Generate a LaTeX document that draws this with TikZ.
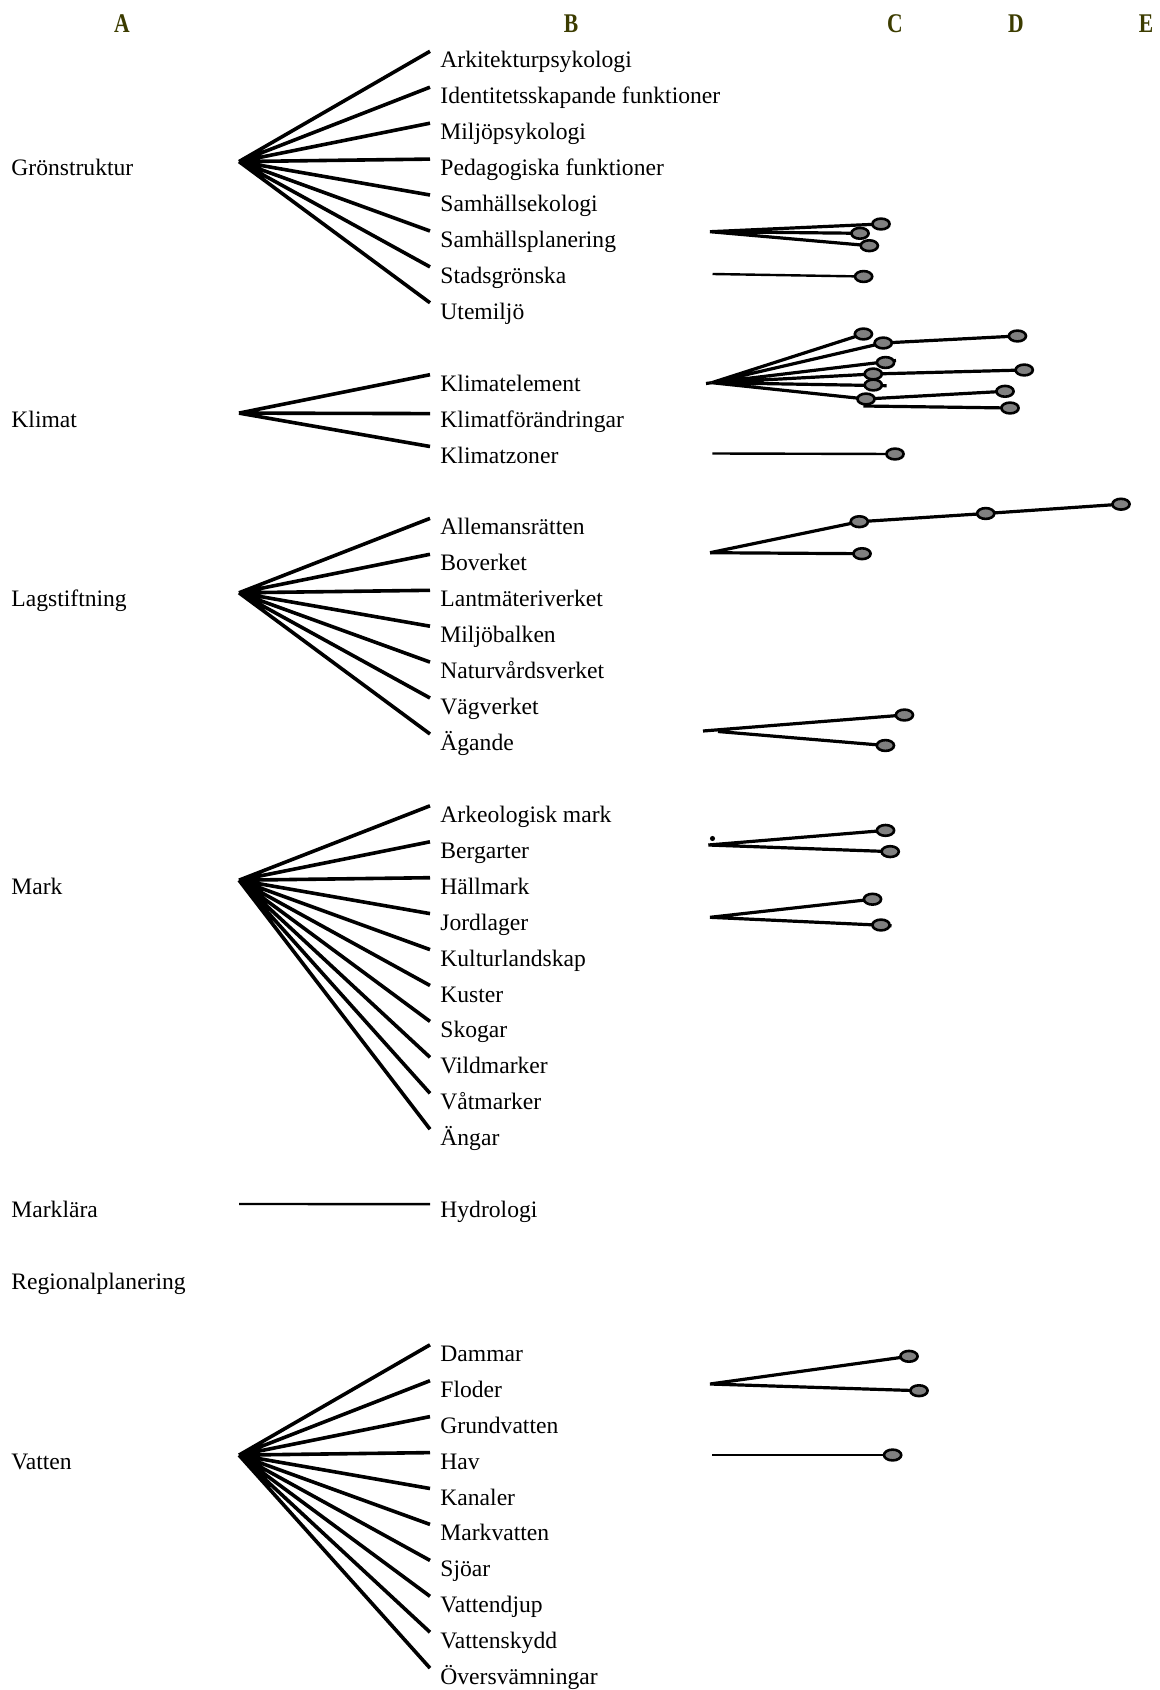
\documentclass[tikz,border=0pt]{standalone}
\usepackage{fontspec}
\setmainfont{Liberation Serif}
\usetikzlibrary{shapes.geometric}

\definecolor{headolive}{RGB}{60,60,0}
\definecolor{knobgray}{RGB}{128,128,128}

\tikzset{
  termnode/.style={anchor=west, inner sep=5pt, yshift=-1pt, font=\fontsize{11.8}{14}\selectfont,
    text height=0.8em, text depth=0.15em},
  headletter/.style={font=\fontsize{13.5}{15}\selectfont\bfseries, text=headolive},
  fanline/.style={line width=1.8pt},
  linkline/.style={line width=1.6pt},
  thinlink/.style={line width=1.2pt},
  knob/.style={ellipse, draw, fill=knobgray, line width=1.3pt, inner sep=0pt,
    minimum width=8.6pt, minimum height=5.4pt},
}

\begin{document}
\begin{tikzpicture}[x=0.5pt, y=-0.5pt]
  \useasboundingbox (0,0) rectangle (1160,1690);

  % column heads
  \node[headletter] (hA) at (122,24) {\scalebox{0.8}[1]{A}};
  \node[headletter] (hB) at (571,24) {\scalebox{0.8}[1]{B}};
  \node[headletter] (hC) at (895,24) {\scalebox{0.8}[1]{C}};
  \node[headletter] (hD) at (1016,24) {\scalebox{0.8}[1]{D}};
  \node[headletter] (hE) at (1146,24) {\scalebox{0.8}[1]{E}};

  % level A
  \node[termnode] (gron) at (1,167.1) {Grönstruktur};
  \node[termnode] (klim) at (1,418.6) {Klimat};
  \node[termnode] (lag) at (1,598.3) {Lagstiftning};
  \node[termnode] (mark) at (1,885.7) {Mark};
  \node[termnode] (mlara) at (1,1209.1) {Marklära};
  \node[termnode] (regpl) at (1,1280.9) {Regionalplanering};
  \node[termnode] (vatt) at (1,1460.6) {Vatten};

  % level B
  \node[termnode] (g1) at (430,59.3) {Arkitekturpsykologi};
  \node[termnode] (g2) at (430,95.2) {Identitetsskapande funktioner};
  \node[termnode] (g3) at (430,131.2) {Miljöpsykologi};
  \node[termnode] (g4) at (430,167.1) {Pedagogiska funktioner};
  \node[termnode] (g5) at (430,203.0) {Samhällsekologi};
  \node[termnode] (g6) at (430,239.0) {Samhällsplanering};
  \node[termnode] (g7) at (430,274.9) {Stadsgrönska};
  \node[termnode] (g8) at (430,310.8) {Utemiljö};

  \node[termnode] (km1) at (430,382.7) {Klimatelement};
  \node[termnode] (km2) at (430,418.6) {Klimatförändringar};
  \node[termnode] (km3) at (430,454.5) {Klimatzoner};

  \node[termnode] (lg1) at (430,526.4) {Allemansrätten};
  \node[termnode] (lg2) at (430,562.3) {Boverket};
  \node[termnode] (lg3) at (430,598.3) {Lantmäteriverket};
  \node[termnode] (lg4) at (430,634.2) {Miljöbalken};
  \node[termnode] (lg5) at (430,670.1) {Naturvårdsverket};
  \node[termnode] (lg6) at (430,706.0) {Vägverket};
  \node[termnode] (lg7) at (430,742.0) {Ägande};

  \node[termnode] (mk1) at (430,813.8) {Arkeologisk mark};
  \node[termnode] (mk2) at (430,849.8) {Bergarter};
  \node[termnode] (mk3) at (430,885.7) {Hällmark};
  \node[termnode] (mk4) at (430,921.6) {Jordlager};
  \node[termnode] (mk5) at (430,957.6) {Kulturlandskap};
  \node[termnode] (mk6) at (430,993.5) {Kuster};
  \node[termnode] (mk7) at (430,1029.4) {Skogar};
  \node[termnode] (mk8) at (430,1065.3) {Vildmarker};
  \node[termnode] (mk9) at (430,1101.3) {Våtmarker};
  \node[termnode] (mk10) at (430,1137.2) {Ängar};

  \node[termnode] (hyd) at (430,1209.1) {Hydrologi};

  \node[termnode] (vt1) at (430,1352.8) {Dammar};
  \node[termnode] (vt2) at (430,1388.7) {Floder};
  \node[termnode] (vt3) at (430,1424.6) {Grundvatten};
  \node[termnode] (vt4) at (430,1460.6) {Hav};
  \node[termnode] (vt5) at (430,1496.5) {Kanaler};
  \node[termnode] (vt6) at (430,1532.4) {Markvatten};
  \node[termnode] (vt7) at (430,1568.4) {Sjöar};
  \node[termnode] (vt8) at (430,1604.3) {Vattendjup};
  \node[termnode] (vt9) at (430,1640.2) {Vattenskydd};
  \node[termnode] (vt10) at (430,1676.1) {Översvämningar};

  % fans A -> B
  \coordinate (gHub) at (239,161.6);
  \coordinate (kHubA) at (239,413.1);
  \coordinate (lHubA) at (239,592.8);
  \coordinate (mHubA) at (239,880.2);
  \coordinate (mlHub) at (239,1204);
  \coordinate (vHubA) at (239,1455.1);

  \draw[fanline] (gHub) -- ([yshift=5pt]g1.west) (gHub) -- ([yshift=5pt]g2.west)
    (gHub) -- ([yshift=5pt]g3.west) (gHub) -- ([yshift=5pt]g4.west)
    (gHub) -- ([yshift=5pt]g5.west) (gHub) -- ([yshift=5pt]g6.west)
    (gHub) -- ([yshift=5pt]g7.west) (gHub) -- ([yshift=5pt]g8.west);

  \draw[fanline] (kHubA) -- ([yshift=5pt]km1.west) (kHubA) -- ([yshift=3.5pt]km2.west)
    (kHubA) -- ([yshift=5pt]km3.west);

  \draw[fanline] (lHubA) -- ([yshift=5pt]lg1.west) (lHubA) -- ([yshift=5pt]lg2.west)
    (lHubA) -- ([yshift=5pt]lg3.west) (lHubA) -- ([yshift=5pt]lg4.west)
    (lHubA) -- ([yshift=5pt]lg5.west) (lHubA) -- ([yshift=5pt]lg6.west)
    (lHubA) -- ([yshift=5pt]lg7.west);

  \draw[fanline] (mHubA) -- ([yshift=5pt]mk1.west) (mHubA) -- ([yshift=5pt]mk2.west)
    (mHubA) -- ([yshift=5pt]mk3.west) (mHubA) -- ([yshift=5pt]mk4.west)
    (mHubA) -- ([yshift=5pt]mk5.west) (mHubA) -- ([yshift=5pt]mk6.west)
    (mHubA) -- ([yshift=5pt]mk7.west) (mHubA) -- ([yshift=5pt]mk8.west)
    (mHubA) -- ([yshift=5pt]mk9.west) (mHubA) -- ([yshift=5pt]mk10.west);

  \draw[thinlink] (mlHub) -- ([yshift=3.5pt]hyd.west);

  \draw[fanline] (vHubA) -- ([yshift=5pt]vt1.west) (vHubA) -- ([yshift=5pt]vt2.west)
    (vHubA) -- ([yshift=5pt]vt3.west) (vHubA) -- ([yshift=5pt]vt4.west)
    (vHubA) -- ([yshift=5pt]vt5.west) (vHubA) -- ([yshift=5pt]vt6.west)
    (vHubA) -- ([yshift=5pt]vt7.west) (vHubA) -- ([yshift=5pt]vt8.west)
    (vHubA) -- ([yshift=5pt]vt9.west) (vHubA) -- ([yshift=5pt]vt10.west);

  % levels C, D, E
  \coordinate (spHub) at (710,231.7);
  \coordinate (sp1) at (881,224);
  \coordinate (sp2) at (860,233.3);
  \coordinate (sp3) at (869.3,245.7);
  \coordinate (stHub) at (712.5,274);
  \coordinate (st1) at (863.6,276.5);

  \coordinate (kStub) at (706,383.5);
  \coordinate (kHub) at (711.7,382.7);
  \coordinate (k1) at (863.4,334);
  \coordinate (k2) at (883.2,343);
  \coordinate (k3) at (885.5,362.5);
  \coordinate (k3e) at (896,360.5);
  \coordinate (k4) at (873.2,374);
  \coordinate (k5) at (873.3,385);
  \coordinate (k5e) at (886.7,385.7);
  \coordinate (k6) at (866,399);
  \coordinate (k7) at (863.3,406);
  \coordinate (kd2) at (1017.4,336);
  \coordinate (kd4) at (1024.2,370);
  \coordinate (kd6) at (1005,391.3);
  \coordinate (kd7) at (1010,408);
  \coordinate (kzHub) at (712.3,453.5);
  \coordinate (kz1) at (895,454);

  \coordinate (lHub) at (710,552.7);
  \coordinate (l1) at (859.3,521.7);
  \coordinate (l2) at (985.7,513.5);
  \coordinate (l3) at (1121,504.2);
  \coordinate (l4) at (862,553.7);
  \coordinate (agHub) at (703,731);
  \coordinate (agHub2) at (718,731.5);
  \coordinate (ag1) at (904.4,715);
  \coordinate (ag2) at (885.4,745.5);

  \coordinate (bgHub) at (708.3,845);
  \coordinate (bg1) at (885.5,830.4);
  \coordinate (bg2) at (890.2,851.6);
  \coordinate (jHub) at (710,917.3);
  \coordinate (j1) at (872.5,899.2);
  \coordinate (j2) at (881,925);
  \coordinate (j2e) at (891.5,925.7);

  \coordinate (vHub) at (710,1384);
  \coordinate (v1) at (909,1356.3);
  \coordinate (v2) at (919,1390.7);
  \coordinate (hHub) at (712.3,1455);
  \coordinate (h1) at (892.6,1455);

  \draw[linkline] (spHub) -- (sp1) (spHub) -- (sp2) (spHub) -- (sp3);
  \draw[thinlink] (stHub) -- (st1);

  \draw[linkline] (kStub) -- (kHub);
  \draw[linkline] (kHub) -- (k1) (kHub) -- (k2) (kHub) -- (k3e)
    (kHub) -- (k4) (kHub) -- (k5e) (kHub) -- (k6);
  \draw[linkline] (k2) -- (kd2) (k4) -- (kd4) (k6) -- (kd6) (k7) -- (kd7);
  \draw[thinlink] (kzHub) -- (kz1);

  \draw[linkline] (lHub) -- (l1) -- (l2) -- (l3);
  \draw[linkline] (lHub) -- (l4);
  \draw[linkline] (agHub) -- (ag1) (agHub2) -- (ag2);

  \node[circle, fill, inner sep=0.9pt] (bgDot) at (712.5,838.5) {};
  \draw[linkline] (bgHub) -- (bg1) (bgHub) -- (bg2);
  \draw[linkline] (jHub) -- (j1) (jHub) -- (j2e);

  \draw[linkline] (vHub) -- (v1) (vHub) -- (v2);
  \draw[thinlink] (hHub) -- (h1);

  % knobs
  \node[knob] (sp1k) at (sp1) {};
  \node[knob] (sp2k) at (sp2) {};
  \node[knob] (sp3k) at (sp3) {};
  \node[knob] (st1k) at (st1) {};
  \node[knob] (k1k) at (k1) {};
  \node[knob] (k2k) at (k2) {};
  \node[knob] (k3k) at (k3) {};
  \node[knob] (k5k) at (k5) {};
  \node[knob] (k4k) at (k4) {};
  \node[knob] (k6k) at (k6) {};
  \node[knob] (kd2k) at (kd2) {};
  \node[knob] (kd4k) at (kd4) {};
  \node[knob] (kd6k) at (kd6) {};
  \node[knob] (kd7k) at (kd7) {};
  \node[knob] (kz1k) at (kz1) {};
  \node[knob] (l1k) at (l1) {};
  \node[knob] (l2k) at (l2) {};
  \node[knob] (l3k) at (l3) {};
  \node[knob] (l4k) at (l4) {};
  \node[knob] (ag1k) at (ag1) {};
  \node[knob] (ag2k) at (ag2) {};
  \node[knob] (bg1k) at (bg1) {};
  \node[knob] (bg2k) at (bg2) {};
  \node[knob] (j1k) at (j1) {};
  \node[knob] (j2k) at (j2) {};
  \node[knob] (v1k) at (v1) {};
  \node[knob] (v2k) at (v2) {};
  \node[knob] (h1k) at (h1) {};
\end{tikzpicture}
\end{document}
